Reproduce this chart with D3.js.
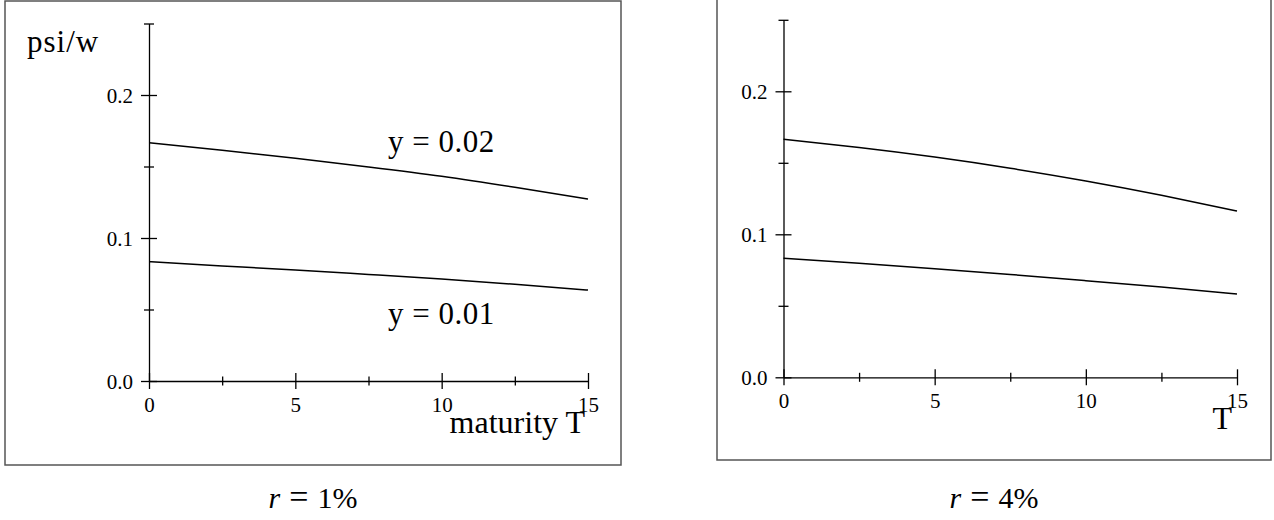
<!DOCTYPE html>
<meta charset="utf-8">
<style>
body { margin: 0; background: #fff; }
svg text { font-family: "Liberation Serif", "Times New Roman", serif; fill: #000; }
.axis path, .axis line { stroke: #000; stroke-width: 1.3; }
.curve { fill: none; stroke: #000; stroke-width: 1.5; }
.frame { fill: none; stroke: #555; stroke-width: 1.5; }
.lab { font-size: 31px; }
</style>
<body>
<svg id="chart" width="1274" height="520"></svg>
<script src="https://d3js.org/d3.v7.min.js"></script>
<script>
// maturity T (years)
var maturity = [0, 2.5, 5, 7.5, 10, 12.5, 15];

// psi/w, r = 1%
var r1_y02 = [0.1667, 0.1614, 0.1558, 0.1497, 0.1432, 0.1355, 0.1273];
var r1_y01 = [0.0834, 0.0805, 0.0776, 0.0745, 0.0713, 0.0676, 0.0636];

// psi/w, r = 4%
var r4_y02 = [0.1664, 0.1607, 0.1540, 0.1462, 0.1373, 0.1273, 0.1163];
var r4_y01 = [0.0832, 0.0797, 0.0759, 0.0719, 0.0676, 0.0631, 0.0582];

var xMajor = [0, 5, 10, 15], xMinor = [2.5, 7.5, 12.5];
var yMajor = [0, 0.1, 0.2], yMinor = [0.05, 0.15, 0.25];

var panels = [
  { frame: [5, 1, 616, 464], xr: [149, 588], yr: [381, 23.5],
    series: [r1_y02, r1_y01], caption: "1%", xlabel: "maturity T", xlabDx: -3,
    ylabel: "psi/w", seriesLabels: ["y = 0.02", "y = 0.01"] },
  { frame: [717, -5, 554, 465], xr: [783.5, 1237], yr: [377.3, 19.8],
    series: [r4_y02, r4_y01], caption: "4%", xlabel: "T", xlabDx: -5,
    ylabel: null, seriesLabels: null }
];

var svg = d3.select("#chart");

panels.forEach(function(p) {
  var g = svg.append("g");
  g.append("rect").attr("class", "frame")
    .attr("x", p.frame[0]).attr("y", p.frame[1])
    .attr("width", p.frame[2]).attr("height", p.frame[3]);

  var x = d3.scaleLinear().domain([0, 15]).range(p.xr);
  var y = d3.scaleLinear().domain([0, 0.25]).range(p.yr);

  // x axis: major ticks crossing the line, minor ticks smaller
  var gx = g.append("g").attr("class", "axis")
    .attr("transform", "translate(0," + y(0) + ")")
    .call(d3.axisBottom(x).tickValues(xMajor).tickSizeOuter(0).tickPadding(0));
  gx.attr("font-family", null);
  gx.selectAll(".tick line").attr("y1", -8).attr("y2", 8);
  gx.selectAll(".tick text").attr("y", 16).attr("dy", "0.71em")
    .style("font-size", "21px");
  gx.append("g").call(d3.axisBottom(x).tickValues(xMinor).tickFormat("").tickSizeOuter(0))
    .call(function(s) { s.select(".domain").remove(); })
    .selectAll(".tick line").attr("y1", -4.5).attr("y2", 4.5);

  // y axis
  var gy = g.append("g").attr("class", "axis")
    .attr("transform", "translate(" + x(0) + ",0)")
    .call(d3.axisLeft(y).tickValues(yMajor).tickFormat(d3.format(".1f")).tickSizeOuter(0));
  gy.attr("font-family", null);
  gy.selectAll(".tick line").attr("x1", -8).attr("x2", 8);
  gy.selectAll(".tick text").attr("x", -16).attr("dy", "0.35em")
    .style("font-size", "21px");
  gy.append("g").call(d3.axisLeft(y).tickValues(yMinor).tickFormat("").tickSizeOuter(0))
    .call(function(s) { s.select(".domain").remove(); })
    .selectAll(".tick line").attr("x1", -5).attr("x2", 5);

  var line = d3.line()
    .x(function(d, i) { return x(maturity[i]); })
    .y(function(d) { return y(d); })
    .curve(d3.curveNatural);

  p.series.forEach(function(s) {
    g.append("path").attr("class", "curve").attr("d", line(s));
  });

  g.append("text").attr("class", "lab")
    .attr("x", x(15) + p.xlabDx).attr("y", y(0) + 52)
    .attr("text-anchor", "end").style("font-size", "32px").text(p.xlabel);

  if (p.ylabel) {
    g.append("text").attr("class", "lab").attr("x", 27).attr("y", 52)
      .style("letter-spacing", "1px").text(p.ylabel);
  }
  if (p.seriesLabels) {
    g.append("text").attr("class", "lab").attr("x", 388).attr("y", 152)
      .style("letter-spacing", "0.5px").text(p.seriesLabels[0]);
    g.append("text").attr("class", "lab").attr("x", 388).attr("y", 324)
      .style("letter-spacing", "0.5px").text(p.seriesLabels[1]);
  }

  var cap = g.append("text")
    .attr("x", p.frame[0] + p.frame[2] / 2).attr("y", 508)
    .attr("text-anchor", "middle").style("font-size", "30px");
  cap.append("tspan").style("font-style", "italic").text("r");
  cap.append("tspan").attr("dx", 9).style("font-size", "34px").text("=");
  cap.append("tspan").attr("dx", 9).text(p.caption);
});
</script>
</body>
